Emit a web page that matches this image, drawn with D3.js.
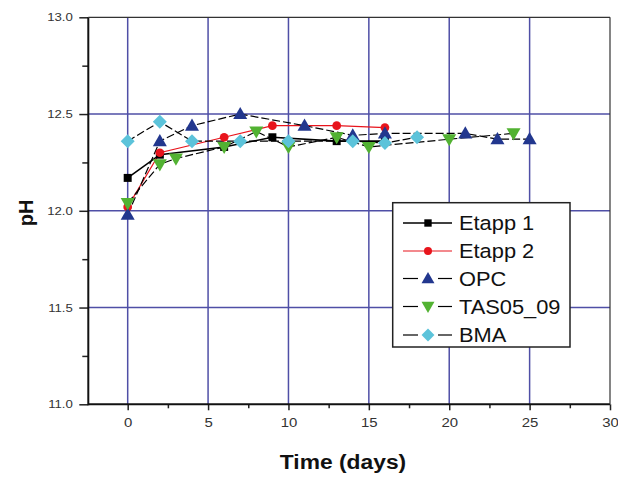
<!DOCTYPE html>
<html>
<head>
<meta charset="utf-8">
<script src="https://cdn.jsdelivr.net/npm/d3@7/dist/d3.min.js"></script>
<style>
  html, body { margin: 0; padding: 0; background: #fff; }
  svg { display: block; }
  text { font-family: "Liberation Sans", Arial, sans-serif; }
</style>
</head>
<body>
<svg id="chart" width="618" height="477"></svg>
<script>
// pH of the pore solution over time for each binder
const etapp1Days = [0, 2, 6, 9, 13, 16];
const etapp1PH   = [12.17, 12.29, 12.33, 12.38, 12.36, 12.36];

const etapp2Days = [0, 2, 6, 9, 13, 16];
const etapp2PH   = [12.02, 12.30, 12.38, 12.44, 12.44, 12.43];

const opcDays = [0, 2, 4, 7, 11, 14, 16, 21, 23, 25];
const opcPH   = [11.98, 12.36, 12.44, 12.50, 12.44, 12.39, 12.40, 12.40, 12.37, 12.37];

const tasDays = [0, 2, 3, 6, 8, 10, 13, 15, 20, 24];
const tasPH   = [12.04, 12.24, 12.27, 12.33, 12.41, 12.33, 12.38, 12.33, 12.37, 12.40];

const bmaDays = [0, 2, 4, 7, 10, 14, 16, 18];
const bmaPH   = [12.36, 12.46, 12.36, 12.36, 12.36, 12.36, 12.35, 12.38];

const seriesNames = ["Etapp 1", "Etapp 2", "OPC", "TAS05_09", "BMA"];

const xTicks = [0, 5, 10, 15, 20, 25, 30];
const yTicks = [11.0, 11.5, 12.0, 12.5, 13.0];

// rot: extra rotation of the symbol (degrees), dy: optical centring offset
const series = [
  { name: seriesNames[0], days: etapp1Days, ph: etapp1PH, symbol: d3.symbolSquare, size: 64, rot: 0, dy: 0, color: "#000000", line: "#000000", dash: null, lw: 1.6 },
  { name: seriesNames[1], days: etapp2Days, ph: etapp2PH, symbol: d3.symbolCircle, size: 60, rot: 0, dy: 0, color: "#e8141c", line: "#e8141c", dash: null, lw: 1.2 },
  { name: seriesNames[2], days: opcDays, ph: opcPH, symbol: d3.symbolTriangle, size: 85, rot: 0, dy: 1, color: "#22378e", line: "#000000", dash: "8,3", lw: 1.2 },
  { name: seriesNames[3], days: tasDays, ph: tasPH, symbol: d3.symbolTriangle, size: 85, rot: 180, dy: -1, color: "#52b232", line: "#000000", dash: "8,3", lw: 1.2 },
  { name: seriesNames[4], days: bmaDays, ph: bmaPH, symbol: d3.symbolSquare, size: 98, rot: 45, dy: 0, color: "#5cc3da", line: "#000000", dash: "8,3", lw: 1.2 }
];

const svg = d3.select("#chart");
svg.append("rect").attr("width", 618).attr("height", 477).attr("fill", "#fff");

const x = d3.scaleLinear().domain([-2.45, 30]).range([88.3, 610]);
const y = d3.scaleLinear().domain([11, 13]).range([404.3, 17.3]);

const gridColor = "#4f4fa6";

// horizontally widened text, as in the original figure
function wide(sel, sx) {
  sel.each(function () {
    const t = d3.select(this);
    const tx = +t.attr("x") || 0, ty = +t.attr("y") || 0;
    t.attr("x", null).attr("y", null)
     .attr("transform", `translate(${tx},${ty}) scale(${sx},1)`);
  });
}

// grid
const grid = svg.append("g");
grid.selectAll("line.gx").data(xTicks.filter(d => d >= 0 && d < 30)).enter().append("line")
  .attr("x1", d => x(d)).attr("x2", d => x(d))
  .attr("y1", y(13)).attr("y2", y(11))
  .attr("stroke", gridColor).attr("stroke-width", 1.5);
grid.selectAll("line.gy").data(yTicks.filter(d => d > 11 && d < 13)).enter().append("line")
  .attr("x1", x(-2.45)).attr("x2", x(30))
  .attr("y1", d => y(d)).attr("y2", d => y(d))
  .attr("stroke", gridColor).attr("stroke-width", 1.5);

// axes
const xAxis = d3.axisBottom(x).tickValues(xTicks).tickSize(6).tickFormat(d3.format("d"));
const xMinor = d3.axisBottom(x).tickValues(d3.range(-2.5, 30, 5).filter(d => d > -2.45)).tickSize(4).tickFormat("");
const yAxis = d3.axisLeft(y).tickValues(yTicks).tickSize(9).tickFormat(d3.format(".1f"));
const yMinor = d3.axisLeft(y).tickValues([11.25, 11.75, 12.25, 12.75]).tickSize(6).tickFormat("");

const gx = svg.append("g").attr("transform", `translate(0,${y(11)})`).call(xAxis);
svg.append("g").attr("transform", `translate(0,${y(11)})`).call(xMinor).call(g => g.select(".domain").remove())
  .selectAll("line").attr("stroke", "#222").attr("stroke-width", 1.5);
gx.select(".domain").remove();
gx.selectAll("line").attr("stroke", "#222").attr("stroke-width", 1.5);
gx.selectAll("text").attr("font-size", 13).attr("fill", "#333").attr("y", 13)
  .call(wide, 1.15);

const gy = svg.append("g").attr("transform", `translate(${x(-2.45)},0)`).call(yAxis);
svg.append("g").attr("transform", `translate(${x(-2.45)},0)`).call(yMinor).call(g => g.select(".domain").remove())
  .selectAll("line").attr("stroke", "#222").attr("stroke-width", 1.5);
gy.select(".domain").remove();
gy.selectAll("line").attr("stroke", "#222").attr("stroke-width", 1.5);
gy.selectAll("text").attr("font-size", 11).attr("fill", "#333").attr("x", -15.5)
  .call(wide, 1.2);

// frame
svg.append("line").attr("x1", x(-2.45)).attr("x2", x(-2.45)).attr("y1", y(13)).attr("y2", y(11) + 1)
  .attr("stroke", "#111").attr("stroke-width", 2);
svg.append("line").attr("x1", x(-2.45)).attr("x2", x(30)).attr("y1", y(11)).attr("y2", y(11))
  .attr("stroke", "#111").attr("stroke-width", 2);
svg.append("line").attr("x1", x(-2.45)).attr("x2", x(30)).attr("y1", y(13)).attr("y2", y(13))
  .attr("stroke", "#333").attr("stroke-width", 1.2);
svg.append("line").attr("x1", x(30)).attr("x2", x(30)).attr("y1", y(13)).attr("y2", y(11))
  .attr("stroke", "#333").attr("stroke-width", 1.2);

// axis titles
svg.append("text").attr("x", 343).attr("y", 469).attr("text-anchor", "middle")
  .attr("font-size", 19.5).attr("font-weight", "bold").attr("fill", "#111").text("Time (days)")
  .call(wide, 1.17);
svg.append("text").attr("transform", "translate(33,213) rotate(-90)").attr("text-anchor", "middle")
  .attr("font-size", 20).attr("font-weight", "bold").attr("fill", "#111").text("pH");

// series lines
const line = d3.line().x(d => x(d[0])).y(d => y(d[1]));
const plot = svg.append("g");
series.forEach(s => {
  const pts = s.days.map((d, i) => [d, s.ph[i]]);
  plot.append("path").datum(pts).attr("d", line).attr("fill", "none")
    .attr("stroke", s.line).attr("stroke-width", s.lw)
    .attr("stroke-dasharray", s.dash);
});
// series markers
series.forEach(s => {
  const pts = s.days.map((d, i) => [d, s.ph[i]]);
  const sym = d3.symbol().type(s.symbol).size(s.size);
  plot.selectAll(null).data(pts).enter().append("path")
    .attr("d", sym)
    .attr("transform", d => `translate(${x(d[0])},${y(d[1]) + s.dy}) rotate(${s.rot})`)
    .attr("fill", s.color);
});

// legend
const leg = svg.append("g");
leg.append("rect").attr("x", 392.7).attr("y", 202.7).attr("width", 177.3).attr("height", 144.3)
  .attr("fill", "#fff").attr("stroke", "#222").attr("stroke-width", 1.5);
const rowY = [223, 251, 278.5, 306.5, 335];
series.forEach((s, i) => {
  const ry = rowY[i];
  if (s.dash) {
    leg.append("line").attr("x1", 403).attr("x2", 418).attr("y1", ry).attr("y2", ry).attr("stroke", "#000").attr("stroke-width", 1.2);
    leg.append("line").attr("x1", 438).attr("x2", 452).attr("y1", ry).attr("y2", ry).attr("stroke", "#000").attr("stroke-width", 1.2);
  } else {
    leg.append("line").attr("x1", 403).attr("x2", 452).attr("y1", ry).attr("y2", ry).attr("stroke", s.line).attr("stroke-width", s.lw);
  }
  leg.append("path").attr("d", d3.symbol().type(s.symbol).size(s.size * 0.85))
    .attr("transform", `translate(428,${ry + s.dy}) rotate(${s.rot})`)
    .attr("fill", s.color);
  leg.append("text").attr("x", 459).attr("y", ry + 7).attr("font-size", 19.5).attr("fill", "#111").text(s.name)
    .call(wide, 1.12);
});
</script>
</body>
</html>
